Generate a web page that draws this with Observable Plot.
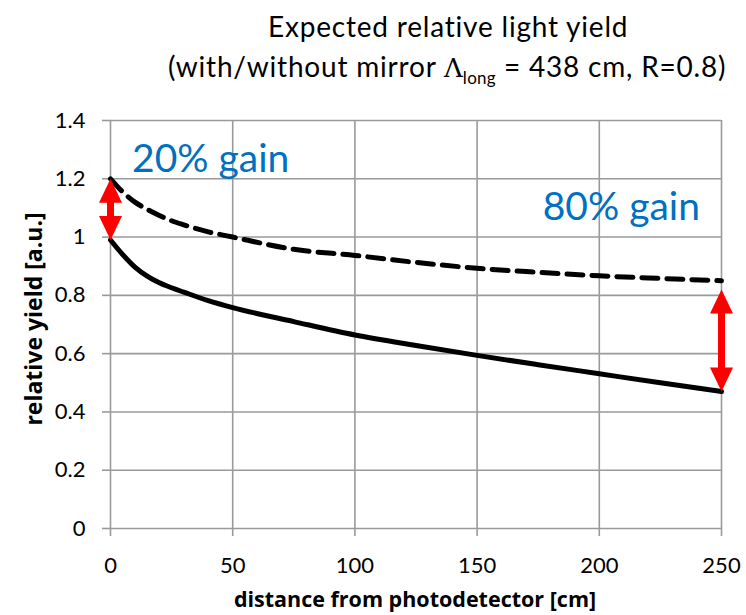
<!DOCTYPE html>
<html>
<head>
<meta charset="utf-8">
<script src="https://cdn.jsdelivr.net/npm/d3@7"></script>
<script src="https://cdn.jsdelivr.net/npm/@observablehq/plot@0.6"></script>
<style>
  body { margin: 0; background: #fff; font-family: Lato, "Open Sans", sans-serif; }
  #wrap { position: relative; width: 746px; height: 615px; overflow: hidden; }
  #title { position: absolute; left: 0; top: 6px; width: 746px; font-size: 28px; letter-spacing: 0.8px; color: #000; line-height: 40px; white-space: nowrap; }
  #title .l1 { padding-left: 268px; }
  #title .l2 { padding-left: 168px; }
  .lam { font-family: "DejaVu Serif", "Liberation Serif", serif; font-size: 26px; letter-spacing: 0; }
  sub { font-size: 17px; line-height: 0; letter-spacing: 0.3px; }
  .lbl { position: absolute; font-family: "Open Sans", Lato, sans-serif; font-weight: bold; color: #000; white-space: nowrap; line-height: 1; }
  #chart { position: absolute; left: 0; top: 0; }
</style>
</head>
<body>
<div id="wrap">
  <div id="chart"></div>
  <div id="title">
    <div class="l1">Expected relative light yield</div>
    <div class="l2">(with/without mirror <span class="lam">Λ</span><sub>long</sub> = 438 cm, R=0.8)</div>
  </div>
  <div class="lbl" style="left:33px; top:319px; transform: translate(-50%, -50%) rotate(-90deg); font-size:23px;">relative yield [a.u.]</div>
  <div class="lbl" style="left:415px; top:599px; transform: translate(-50%, -50%); font-size:21.5px;">distance from photodetector [cm]</div>
</div>
<script>
// distance from photodetector [cm]
const distance = [0, 5, 10, 15, 20, 25, 30, 40, 50, 75, 100, 125, 150, 175, 200, 225, 250];
// relative yield without mirror
const yieldWithout = [0.99, 0.94, 0.897, 0.866, 0.843, 0.826, 0.811, 0.782, 0.758, 0.71, 0.664, 0.628, 0.594, 0.562, 0.531, 0.50, 0.47];
// relative yield with mirror
const yieldWith = [1.2, 1.155, 1.12, 1.095, 1.074, 1.056, 1.042, 1.018, 1.0, 0.958, 0.937, 0.913, 0.893, 0.879, 0.867, 0.858, 0.85];

const xTicks = [0, 50, 100, 150, 200, 250];
const yTicks = [0, 0.2, 0.4, 0.6, 0.8, 1, 1.2, 1.4];
const yTickLabels = ["0", "0.2", "0.4", "0.6", "0.8", "1", "1.2", "1.4"];

// gain arrows: x, lower, upper
const arrowX = [0, 250];
const arrowLow = [0.99, 0.47];
const arrowHigh = [1.2, 0.82];

// annotation labels
const noteText = ["20% gain", "80% gain"];
const noteX = [41, 209];
const noteY = [1.265, 1.1];

const solid = distance.map((d, i) => ({x: d, y: yieldWithout[i]}));
const dashed = distance.map((d, i) => ({x: d, y: yieldWith[i]}));
const arrows = arrowX.map((x, i) => ({x, lo: arrowLow[i], hi: arrowHigh[i]}));
const heads = arrows.flatMap(a => [{x: a.x, y: a.hi, r: 0}, {x: a.x, y: a.lo, r: 180}]);
const notes = noteText.map((t, i) => ({t, x: noteX[i], y: noteY[i]}));

const headShape = {
  draw(context) {
    context.moveTo(0, 0);
    context.lineTo(-11.5, 24);
    context.lineTo(11.5, 24);
    context.closePath();
  }
};

const tf = (d) => yTickLabels[yTicks.indexOf(d)];

const chart = Plot.plot({
  width: 746,
  height: 615,
  marginTop: 120,
  marginLeft: 110,
  marginRight: 25,
  marginBottom: 87,
  style: {fontFamily: "Lato, 'Open Sans', sans-serif", fontSize: "22px", color: "#000", background: "transparent"},
  x: {domain: [0, 250], label: null},
  y: {domain: [0, 1.4], label: null},
  marks: [
    Plot.gridX(xTicks, {stroke: "#9a9a9a", strokeOpacity: 1, strokeWidth: 1.6}),
    Plot.gridY(yTicks, {stroke: "#9a9a9a", strokeOpacity: 1, strokeWidth: 1.6}),
    Plot.axisX({ticks: xTicks, tickSize: 8, tickPadding: 21, stroke: "#9a9a9a", strokeWidth: 1.6, fontSize: 22, label: null}),
    Plot.axisY({ticks: yTicks, tickSize: 8, tickPadding: 17, stroke: "#9a9a9a", strokeWidth: 1.6, fontSize: 22, label: null, tickFormat: tf}),
    Plot.line(dashed, {x: "x", y: "y", stroke: "#000", strokeWidth: 5, strokeDasharray: "16,9", curve: "monotone-x"}),
    Plot.line(solid, {x: "x", y: "y", stroke: "#000", strokeWidth: 5, curve: "monotone-x"}),
    Plot.ruleX(arrows, {x: "x", y1: "hi", y2: "lo", stroke: "#ff0000", strokeWidth: 7, insetTop: 16, insetBottom: 16}),
    Plot.vector(heads, {x: "x", y: "y", rotate: "r", shape: headShape, anchor: "start", fill: "#ff0000", stroke: "none"}),
    Plot.text(notes, {x: "x", y: "y", text: "t", fill: "#0070c0", fontSize: 39, textAnchor: "middle"})
  ]
});
document.getElementById("chart").appendChild(chart);
</script>
</body>
</html>
